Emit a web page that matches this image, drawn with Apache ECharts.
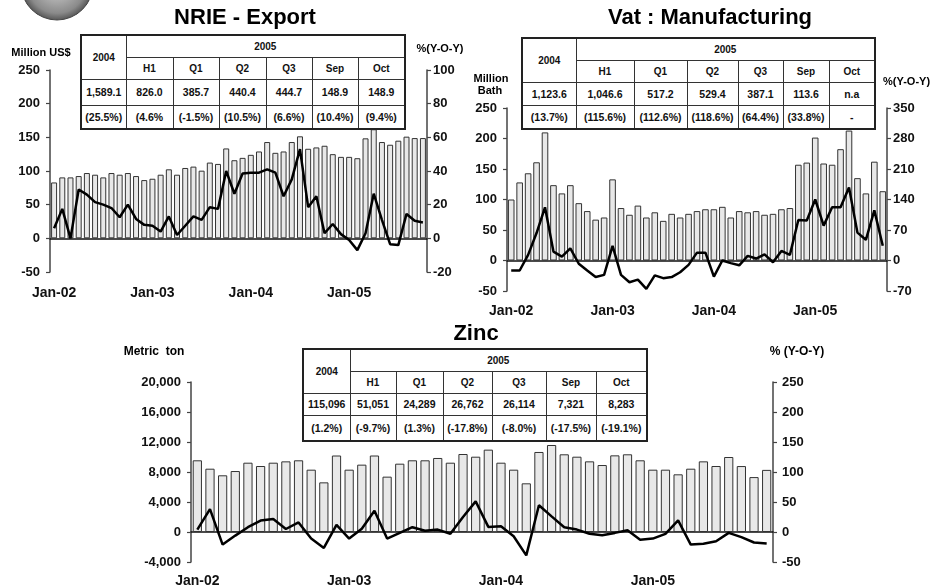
<!DOCTYPE html>
<html>
<head>
<meta charset="utf-8">
<script src="https://cdn.jsdelivr.net/npm/echarts@6/dist/echarts.min.js"></script>
<style>
    body { margin: 0; background: #fff; }
    #wrap { position: relative; width: 930px; height: 588px; }
    #chart { position: absolute; left: 0; top: 0; width: 930px; height: 588px; }
    table.tb {
        position: absolute; border-collapse: collapse; background: #fff; table-layout: fixed;
        font-family: "Liberation Sans", Arial, sans-serif; font-weight: bold; color: #111;
        border: 2px solid #222;
    }
    table.tb td { border: 1px solid #333; text-align: center; padding: 0; font-size: 10px; white-space: nowrap; }
    table.tb tr.num td { font-size: 10.5px; }
</style>
</head>
<body>
<div id="wrap">
    <div id="chart"></div>
</div>
<script>
// months Jan-02 .. Oct-05
var months = ["Jan-02", "Feb-02", "Mar-02", "Apr-02", "May-02", "Jun-02", "Jul-02", "Aug-02", "Sep-02", "Oct-02", "Nov-02", "Dec-02",
    "Jan-03", "Feb-03", "Mar-03", "Apr-03", "May-03", "Jun-03", "Jul-03", "Aug-03", "Sep-03", "Oct-03", "Nov-03", "Dec-03",
    "Jan-04", "Feb-04", "Mar-04", "Apr-04", "May-04", "Jun-04", "Jul-04", "Aug-04", "Sep-04", "Oct-04", "Nov-04", "Dec-04",
    "Jan-05", "Feb-05", "Mar-05", "Apr-05", "May-05", "Jun-05", "Jul-05", "Aug-05", "Sep-05", "Oct-05"];
// vat has no Oct-05 (n.a)
var vatMonths = months.slice(0, 45);

// NRIE export, million US$ / %yoy
var nrieExport = [83, 90.5, 90.5, 92.5, 97, 94.5, 90.5, 97, 94.5, 97, 92.5, 86.5,
    88.5, 94.5, 102.5, 94.5, 104.5, 106.5, 100.5, 112.5, 110.5, 133.5, 116, 119.5,
    124, 129, 143, 127, 129, 143, 151.5, 133, 135, 137.5, 125, 121,
    121, 119, 148.5, 162, 143, 139, 145, 151, 148.9, 148.9];
var nrieYoy = [6, 17.5, 0, 29, 26, 21.5, 20, 18, 12.5, 20, 11.5, 8,
    7.5, 4, 13, 2, 7.5, 13, 11, 18.5, 17.5, 40, 26.5, 38.5,
    39, 39, 41, 39, 25, 35, 53, 18.5, 25, 3, 8.5, 2.5,
    -1, -7, 3, 26.5, 11, -3.5, -4, 14.5, 10.4, 9.4];

// Vat manufacturing, million baht / %yoy
var vatMfg = [100, 128, 143, 161, 210, 123.5, 110, 123.5, 94, 81, 67, 70.5,
    133, 86, 75, 90, 70.5, 79, 65, 76.5, 70.5, 76.5, 81, 84,
    84, 88, 70.5, 81, 79, 81, 75, 76.5, 84, 86, 157, 160.5,
    201.5, 159, 157, 182.5, 213, 135, 110, 162, 113.6];
var vatYoy = [-23, -23, 13, 63, 122, 20.5, 9, 28, -7.5, -23, -38, -33,
    33.5, -33, -50, -44, -65, -34, -40.5, -38, -27, -10, 18, 18,
    -37, 0, -6, -11, 10.5, 4.5, 14, -4, 22, 13, 93, 92,
    140, 80, 122, 122, 167.5, 64, 47.5, 115, 33.8];

// Zinc, metric ton / %yoy
var zincOutput = [9560, 8440, 7560, 8130, 9240, 8800, 9240, 9420, 9560, 8310, 6620, 10200,
    8310, 8980, 10200, 7380, 9110, 9560, 9560, 9870, 9240, 10400, 10040, 10980,
    9240, 8310, 6490, 10670, 11600, 10360, 10040, 9420, 8930, 10220, 10360, 9560,
    8310, 8310, 7690, 8440, 9420, 8800, 10000, 8793, 7321, 8283];
var zincYoy = [4, 38, -21, -6, 8, 19, 21.5, 5, 16, -11, -26.5, 12,
    -11, 5.5, 35.5, -11, -1.5, 8, 2, 4, -3, 25, 51, 8.5,
    9.5, -7, -39, 44.5, 26, 8, 4, -3, -5.5, -1.5, 3, -13,
    -11, -3, 19.5, -21, -19.5, -15.5, -1.5, -8.5, -17.5, -19.1];

// summary tables
var tblHead = ["H1", "Q1", "Q2", "Q3", "Sep", "Oct"];
var nrieTblVal = ["1,589.1", "826.0", "385.7", "440.4", "444.7", "148.9", "148.9"];
var nrieTblPct = ["(25.5%)", "(4.6%", "(-1.5%)", "(10.5%)", "(6.6%)", "(10.4%)", "(9.4%)"];
var vatTblVal = ["1,123.6", "1,046.6", "517.2", "529.4", "387.1", "113.6", "n.a"];
var vatTblPct = ["(13.7%)", "(115.6%)", "(112.6%)", "(118.6%)", "(64.4%)", "(33.8%)", "-"];
var zincTblVal = ["115,096", "51,051", "24,289", "26,762", "26,114", "7,321", "8,283"];
var zincTblPct = ["(1.2%)", "(-9.7%)", "(1.3%)", "(-17.8%)", "(-8.0%)", "(-17.5%)", "(-19.1%)"];

var FONT = '"Liberation Sans", Arial, sans-serif';

function buildTable(left, top, colW, rowH, vals, pcts) {
    var t = document.createElement("table");
    t.className = "tb";
    var total = 0;
    for (var i = 0; i < colW.length; i++) total += colW[i];
    t.style.left = left + "px";
    t.style.top = top + "px";
    t.style.width = total + "px";
    var html = "<colgroup>";
    for (var i = 0; i < colW.length; i++) html += '<col style="width:' + colW[i] + 'px">';
    html += "</colgroup>";
    html += '<tr style="height:' + rowH[0] + 'px"><td rowspan="2">2004</td><td colspan="6">2005</td></tr>';
    html += '<tr style="height:' + rowH[1] + 'px">';
    for (var i = 0; i < tblHead.length; i++) html += "<td>" + tblHead[i] + "</td>";
    html += "</tr>";
    html += '<tr class="num" style="height:' + rowH[2] + 'px">';
    for (var i = 0; i < vals.length; i++) html += "<td>" + vals[i] + "</td>";
    html += "</tr>";
    html += '<tr class="num" style="height:' + rowH[3] + 'px">';
    for (var i = 0; i < pcts.length; i++) html += "<td>" + pcts[i] + "</td>";
    html += "</tr>";
    t.innerHTML = html;
    document.getElementById("wrap").appendChild(t);
}

buildTable(80, 34, [45, 47, 46, 47, 46, 46, 47], [22, 22, 26, 24], nrieTblVal, nrieTblPct);
buildTable(521, 37, [54, 58, 53, 51, 45, 46, 46], [22, 22, 23, 24], vatTblVal, vatTblPct);
buildTable(302, 348, [47, 46, 47, 49, 54, 50, 51], [22, 22, 22, 26], zincTblVal, zincTblPct);

function zeroAxis(grid, cats) {
    return {
        type: "category", gridIndex: grid, data: cats, position: "bottom",
        axisLine: { onZero: true, lineStyle: { color: "#111", width: 1.5 } },
        axisTick: { interval: 5, length: 4, lineStyle: { color: "#111", width: 1.2 } },
        axisLabel: { show: false }
    };
}
function labelAxis(grid, cats, margin) {
    return {
        type: "category", gridIndex: grid, data: cats, position: "bottom",
        axisLine: { show: false, onZero: false },
        axisTick: { show: false },
        axisLabel: { interval: 11, margin: margin, color: "#111", fontSize: 14, fontWeight: "bold", fontFamily: FONT }
    };
}
function valAxis(grid, pos, min, max, step, margin, fmt) {
    return {
        type: "value", gridIndex: grid, position: pos, min: min, max: max, interval: step,
        splitLine: { show: false },
        axisLine: { show: true, lineStyle: { color: "#444", width: 1.5 } },
        axisTick: { show: true, length: 4, lineStyle: { color: "#444", width: 1.2 } },
        axisLabel: { margin: margin, color: "#111", fontSize: 13, fontWeight: "bold", fontFamily: FONT, formatter: fmt }
    };
}
function barSeries(x, y, data, gap) {
    return {
        type: "bar", xAxisIndex: x, yAxisIndex: y, data: data, barCategoryGap: gap,
        itemStyle: { color: "#e8e8e8", borderColor: "#333", borderWidth: 1 }
    };
}
function lineSeries(x, y, data) {
    return {
        type: "line", xAxisIndex: x, yAxisIndex: y, data: data, symbol: "none", z: 5,
        lineStyle: { color: "#000", width: 2.5 }
    };
}
function txt(x, y, s, size, align) {
    return {
        type: "text", x: x, y: y, silent: true,
        style: { text: s, fill: "#000", font: "bold " + size + "px " + FONT, textAlign: align || "center", textVerticalAlign: "middle" }
    };
}

var commas = function (v) { return echarts.format.addCommas(v); };

var myChart = echarts.init(document.getElementById("chart"));
var option = {
    animation: false,
    grid: [
        { left: 50, right: 503, top: 70, bottom: 316 },
        { left: 507, right: 43, top: 108, bottom: 297 },
        { left: 191, right: 157, top: 382, bottom: 26 }
    ],
    xAxis: [
        zeroAxis(0, months), labelAxis(0, months, 14),
        zeroAxis(1, vatMonths), labelAxis(1, vatMonths, 13),
        zeroAxis(2, months), labelAxis(2, months, 12)
    ],
    yAxis: [
        valAxis(0, "left", -50, 250, 50, 10),
        valAxis(0, "right", -20, 100, 20, 6),
        valAxis(1, "left", -50, 250, 50, 10),
        valAxis(1, "right", -70, 350, 70, 6),
        valAxis(2, "left", -4000, 20000, 4000, 10, commas),
        valAxis(2, "right", -50, 250, 50, 9)
    ],
    series: [
        barSeries(0, 0, nrieExport, "27%"),
        lineSeries(0, 1, nrieYoy),
        barSeries(2, 2, vatMfg, "22%"),
        lineSeries(2, 3, vatYoy),
        barSeries(4, 4, zincOutput, "27%"),
        lineSeries(4, 5, zincYoy)
    ],
    graphic: [
        // seal at top left, mostly cut off
        {
            type: "circle", shape: { cx: 57, cy: -16, r: 36 }, silent: true,
            style: {
                fill: new echarts.graphic.RadialGradient(0.5, 0.5, 0.5, [
                    { offset: 0, color: "#d8d8d8" }, { offset: 0.8, color: "#8a8a8a" }, { offset: 1, color: "#555" }
                ]),
                stroke: "#444", lineWidth: 1
            }
        },
        txt(245, 18, "NRIE - Export", 22),
        txt(710, 18, "Vat : Manufacturing", 22),
        txt(476, 334, "Zinc", 22),
        txt(41, 53, "Million US$", 11),
        txt(440, 49, "%(Y-O-Y)", 11),
        txt(491, 79, "Million", 11),
        txt(490, 91, "Bath", 11),
        txt(883, 82, "%(Y-O-Y)", 11, "left"),
        txt(154, 352, "Metric  ton", 12),
        txt(797, 352, "% (Y-O-Y)", 12)
    ]
};
myChart.setOption(option);
</script>
</body>
</html>
